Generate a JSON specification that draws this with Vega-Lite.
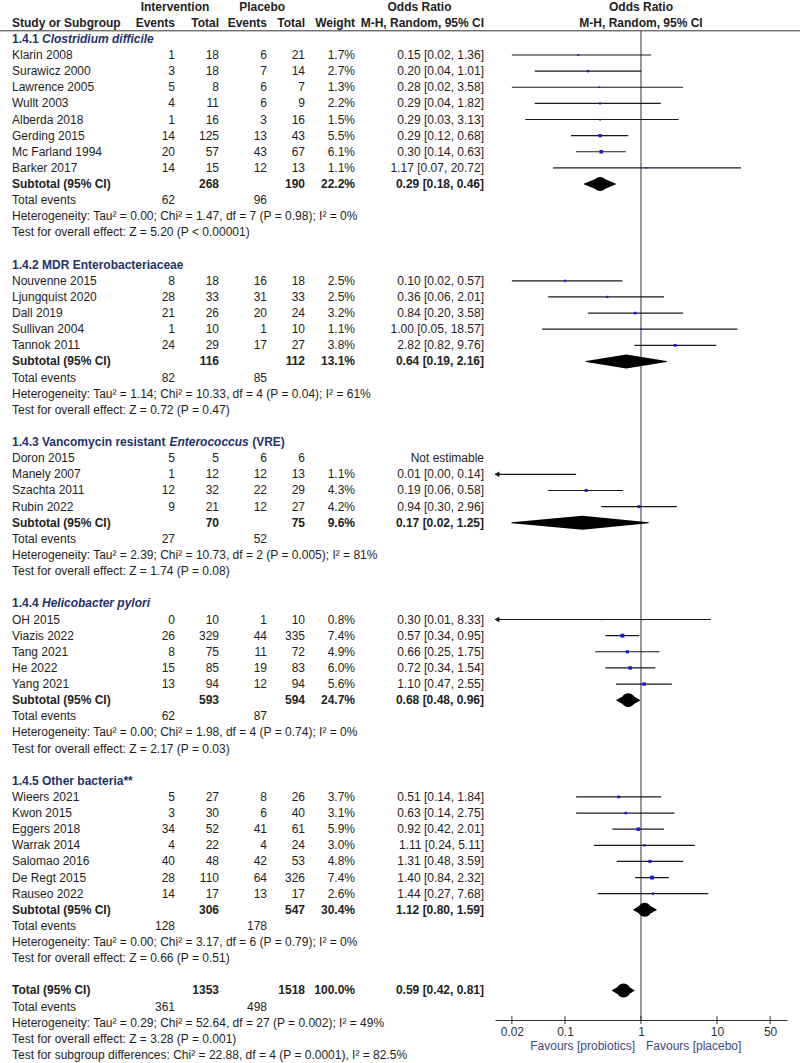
{
  "$schema": "https://vega.github.io/schema/vega-lite/v6.json",
  "width": 800,
  "height": 1020,
  "autosize": {"type": "none"},
  "padding": {"left": 0, "top": 0, "right": 0, "bottom": 43},
  "background": "white",
  "config": {
    "view": {"stroke": null},
    "font": "Liberation Sans",
    "text": {"fontSize": 12, "font": "Liberation Sans"},
    "axis": {"labelFont": "Liberation Sans"}
  },
  "datasets": {
    "one": [{}],
    "ticks": [{"t": 0.02}, {"t": 0.1}, {"t": 1}, {"t": 10}, {"t": 50}],
    "rows": [
      {"row": -3, "kind": "g", "e1": "Intervention", "e2": "Placebo", "ci": "Odds Ratio", "fh": "Odds Ratio"},
      {"row": -2, "kind": "c", "name": "Study or Subgroup", "e1": "Events", "n1": "Total", "e2": "Events", "n2": "Total", "wt": "Weight", "ci": "M-H, Random, 95% CI", "fh": "M-H, Random, 95% CI"},
      {"row": -1, "kind": "h", "name": "1.4.1", "it": "Clostridium difficile"},
      {"row": 0, "kind": "s", "name": "Klarin 2008", "e1": 1, "n1": 18, "e2": 6, "n2": 21, "w": 1.7, "wt": "1.7%", "ci": "0.15 [0.02, 1.36]", "est": 0.15, "lo": 0.02, "hi": 1.36},
      {"row": 1, "kind": "s", "name": "Surawicz 2000", "e1": 3, "n1": 18, "e2": 7, "n2": 14, "w": 2.7, "wt": "2.7%", "ci": "0.20 [0.04, 1.01]", "est": 0.2, "lo": 0.04, "hi": 1.01},
      {"row": 2, "kind": "s", "name": "Lawrence 2005", "e1": 5, "n1": 8, "e2": 6, "n2": 7, "w": 1.3, "wt": "1.3%", "ci": "0.28 [0.02, 3.58]", "est": 0.28, "lo": 0.02, "hi": 3.58},
      {"row": 3, "kind": "s", "name": "Wullt 2003", "e1": 4, "n1": 11, "e2": 6, "n2": 9, "w": 2.2, "wt": "2.2%", "ci": "0.29 [0.04, 1.82]", "est": 0.29, "lo": 0.04, "hi": 1.82},
      {"row": 4, "kind": "s", "name": "Alberda 2018", "e1": 1, "n1": 16, "e2": 3, "n2": 16, "w": 1.5, "wt": "1.5%", "ci": "0.29 [0.03, 3.13]", "est": 0.29, "lo": 0.03, "hi": 3.13},
      {"row": 5, "kind": "s", "name": "Gerding 2015", "e1": 14, "n1": 125, "e2": 13, "n2": 43, "w": 5.5, "wt": "5.5%", "ci": "0.29 [0.12, 0.68]", "est": 0.29, "lo": 0.12, "hi": 0.68},
      {"row": 6, "kind": "s", "name": "Mc Farland 1994", "e1": 20, "n1": 57, "e2": 43, "n2": 67, "w": 6.1, "wt": "6.1%", "ci": "0.30 [0.14, 0.63]", "est": 0.3, "lo": 0.14, "hi": 0.63},
      {"row": 7, "kind": "s", "name": "Barker 2017", "e1": 14, "n1": 15, "e2": 12, "n2": 13, "w": 1.1, "wt": "1.1%", "ci": "1.17 [0.07, 20.72]", "est": 1.17, "lo": 0.07, "hi": 20.72},
      {"row": 8, "kind": "b", "name": "Subtotal (95% CI)", "n1": 268, "n2": 190, "wt": "22.2%", "ci": "0.29 [0.18, 0.46]", "est": 0.29, "lo": 0.18, "hi": 0.46},
      {"row": 9, "kind": "e", "name": "Total events", "e1": 62, "e2": 96},
      {"row": 10, "kind": "n", "name": "Heterogeneity: Tau² = 0.00; Chi² = 1.47, df = 7 (P = 0.98); I² = 0%"},
      {"row": 11, "kind": "n", "name": "Test for overall effect: Z = 5.20 (P < 0.00001)"},
      {"row": 13, "kind": "h", "name": "1.4.2 MDR Enterobacteriaceae"},
      {"row": 14, "kind": "s", "name": "Nouvenne 2015", "e1": 8, "n1": 18, "e2": 16, "n2": 18, "w": 2.5, "wt": "2.5%", "ci": "0.10 [0.02, 0.57]", "est": 0.1, "lo": 0.02, "hi": 0.57},
      {"row": 15, "kind": "s", "name": "Ljungquist 2020", "e1": 28, "n1": 33, "e2": 31, "n2": 33, "w": 2.5, "wt": "2.5%", "ci": "0.36 [0.06, 2.01]", "est": 0.36, "lo": 0.06, "hi": 2.01},
      {"row": 16, "kind": "s", "name": "Dall 2019", "e1": 21, "n1": 26, "e2": 20, "n2": 24, "w": 3.2, "wt": "3.2%", "ci": "0.84 [0.20, 3.58]", "est": 0.84, "lo": 0.2, "hi": 3.58},
      {"row": 17, "kind": "s", "name": "Sullivan 2004", "e1": 1, "n1": 10, "e2": 1, "n2": 10, "w": 1.1, "wt": "1.1%", "ci": "1.00 [0.05, 18.57]", "est": 1.0, "lo": 0.05, "hi": 18.57},
      {"row": 18, "kind": "s", "name": "Tannok 2011", "e1": 24, "n1": 29, "e2": 17, "n2": 27, "w": 3.8, "wt": "3.8%", "ci": "2.82 [0.82, 9.76]", "est": 2.82, "lo": 0.82, "hi": 9.76},
      {"row": 19, "kind": "b", "name": "Subtotal (95% CI)", "n1": 116, "n2": 112, "wt": "13.1%", "ci": "0.64 [0.19, 2.16]", "est": 0.64, "lo": 0.19, "hi": 2.16},
      {"row": 20, "kind": "e", "name": "Total events", "e1": 82, "e2": 85},
      {"row": 21, "kind": "n", "name": "Heterogeneity: Tau² = 1.14; Chi² = 10.33, df = 4 (P = 0.04); I² = 61%"},
      {"row": 22, "kind": "n", "name": "Test for overall effect: Z = 0.72 (P = 0.47)"},
      {"row": 24, "kind": "h", "name": "1.4.3 Vancomycin resistant", "it": "Enterococcus", "tail": "(VRE)"},
      {"row": 25, "kind": "s", "name": "Doron 2015", "e1": 5, "n1": 5, "e2": 6, "n2": 6, "ci": "Not estimable"},
      {"row": 26, "kind": "s", "name": "Manely 2007", "e1": 1, "n1": 12, "e2": 12, "n2": 13, "w": 1.1, "wt": "1.1%", "ci": "0.01 [0.00, 0.14]", "est": 0.0076, "lo": 0.0004, "hi": 0.14},
      {"row": 27, "kind": "s", "name": "Szachta 2011", "e1": 12, "n1": 32, "e2": 22, "n2": 29, "w": 4.3, "wt": "4.3%", "ci": "0.19 [0.06, 0.58]", "est": 0.19, "lo": 0.06, "hi": 0.58},
      {"row": 28, "kind": "s", "name": "Rubin 2022", "e1": 9, "n1": 21, "e2": 12, "n2": 27, "w": 4.2, "wt": "4.2%", "ci": "0.94 [0.30, 2.96]", "est": 0.94, "lo": 0.3, "hi": 2.96},
      {"row": 29, "kind": "b", "name": "Subtotal (95% CI)", "n1": 70, "n2": 75, "wt": "9.6%", "ci": "0.17 [0.02, 1.25]", "est": 0.17, "lo": 0.02, "hi": 1.25},
      {"row": 30, "kind": "e", "name": "Total events", "e1": 27, "e2": 52},
      {"row": 31, "kind": "n", "name": "Heterogeneity: Tau² = 2.39; Chi² = 10.73, df = 2 (P = 0.005); I² = 81%"},
      {"row": 32, "kind": "n", "name": "Test for overall effect: Z = 1.74 (P = 0.08)"},
      {"row": 34, "kind": "h", "name": "1.4.4", "it": "Helicobacter pylori"},
      {"row": 35, "kind": "s", "name": "OH 2015", "e1": 0, "n1": 10, "e2": 1, "n2": 10, "w": 0.8, "wt": "0.8%", "ci": "0.30 [0.01, 8.33]", "est": 0.3, "lo": 0.01, "hi": 8.33},
      {"row": 36, "kind": "s", "name": "Viazis 2022", "e1": 26, "n1": 329, "e2": 44, "n2": 335, "w": 7.4, "wt": "7.4%", "ci": "0.57 [0.34, 0.95]", "est": 0.57, "lo": 0.34, "hi": 0.95},
      {"row": 37, "kind": "s", "name": "Tang 2021", "e1": 8, "n1": 75, "e2": 11, "n2": 72, "w": 4.9, "wt": "4.9%", "ci": "0.66 [0.25, 1.75]", "est": 0.66, "lo": 0.25, "hi": 1.75},
      {"row": 38, "kind": "s", "name": "He 2022", "e1": 15, "n1": 85, "e2": 19, "n2": 83, "w": 6.0, "wt": "6.0%", "ci": "0.72 [0.34, 1.54]", "est": 0.72, "lo": 0.34, "hi": 1.54},
      {"row": 39, "kind": "s", "name": "Yang 2021", "e1": 13, "n1": 94, "e2": 12, "n2": 94, "w": 5.6, "wt": "5.6%", "ci": "1.10 [0.47, 2.55]", "est": 1.1, "lo": 0.47, "hi": 2.55},
      {"row": 40, "kind": "b", "name": "Subtotal (95% CI)", "n1": 593, "n2": 594, "wt": "24.7%", "ci": "0.68 [0.48, 0.96]", "est": 0.68, "lo": 0.48, "hi": 0.96},
      {"row": 41, "kind": "e", "name": "Total events", "e1": 62, "e2": 87},
      {"row": 42, "kind": "n", "name": "Heterogeneity: Tau² = 0.00; Chi² = 1.98, df = 4 (P = 0.74); I² = 0%"},
      {"row": 43, "kind": "n", "name": "Test for overall effect: Z = 2.17 (P = 0.03)"},
      {"row": 45, "kind": "h", "name": "1.4.5 Other bacteria**"},
      {"row": 46, "kind": "s", "name": "Wieers 2021", "e1": 5, "n1": 27, "e2": 8, "n2": 26, "w": 3.7, "wt": "3.7%", "ci": "0.51 [0.14, 1.84]", "est": 0.51, "lo": 0.14, "hi": 1.84},
      {"row": 47, "kind": "s", "name": "Kwon 2015", "e1": 3, "n1": 30, "e2": 6, "n2": 40, "w": 3.1, "wt": "3.1%", "ci": "0.63 [0.14, 2.75]", "est": 0.63, "lo": 0.14, "hi": 2.75},
      {"row": 48, "kind": "s", "name": "Eggers 2018", "e1": 34, "n1": 52, "e2": 41, "n2": 61, "w": 5.9, "wt": "5.9%", "ci": "0.92 [0.42, 2.01]", "est": 0.92, "lo": 0.42, "hi": 2.01},
      {"row": 49, "kind": "s", "name": "Warrak 2014", "e1": 4, "n1": 22, "e2": 4, "n2": 24, "w": 3.0, "wt": "3.0%", "ci": "1.11 [0.24, 5.11]", "est": 1.11, "lo": 0.24, "hi": 5.11},
      {"row": 50, "kind": "s", "name": "Salomao 2016", "e1": 40, "n1": 48, "e2": 42, "n2": 53, "w": 4.8, "wt": "4.8%", "ci": "1.31 [0.48, 3.59]", "est": 1.31, "lo": 0.48, "hi": 3.59},
      {"row": 51, "kind": "s", "name": "De Regt 2015", "e1": 28, "n1": 110, "e2": 64, "n2": 326, "w": 7.4, "wt": "7.4%", "ci": "1.40 [0.84, 2.32]", "est": 1.4, "lo": 0.84, "hi": 2.32},
      {"row": 52, "kind": "s", "name": "Rauseo 2022", "e1": 14, "n1": 17, "e2": 13, "n2": 17, "w": 2.6, "wt": "2.6%", "ci": "1.44 [0.27, 7.68]", "est": 1.44, "lo": 0.27, "hi": 7.68},
      {"row": 53, "kind": "b", "name": "Subtotal (95% CI)", "n1": 306, "n2": 547, "wt": "30.4%", "ci": "1.12 [0.80, 1.59]", "est": 1.12, "lo": 0.8, "hi": 1.59},
      {"row": 54, "kind": "e", "name": "Total events", "e1": 128, "e2": 178},
      {"row": 55, "kind": "n", "name": "Heterogeneity: Tau² = 0.00; Chi² = 3.17, df = 6 (P = 0.79); I² = 0%"},
      {"row": 56, "kind": "n", "name": "Test for overall effect: Z = 0.66 (P = 0.51)"},
      {"row": 58, "kind": "b", "name": "Total (95% CI)", "n1": 1353, "n2": 1518, "wt": "100.0%", "ci": "0.59 [0.42, 0.81]", "est": 0.59, "lo": 0.42, "hi": 0.81},
      {"row": 59, "kind": "e", "name": "Total events", "e1": 361, "e2": 498},
      {"row": 60, "kind": "n", "name": "Heterogeneity: Tau² = 0.29; Chi² = 52.64, df = 27 (P = 0.002); I² = 49%"},
      {"row": 61, "kind": "n", "name": "Test for overall effect: Z = 3.28 (P = 0.001)"},
      {"row": 62, "kind": "n", "name": "Test for subgroup differences: Chi² = 22.88, df = 4 (P = 0.0001), I² = 82.5%"}
    ]
  },
  "data": {"name": "rows"},
  "resolve": {"scale": {"x": "independent"}, "axis": {"x": "independent"}},
  "layer": [
    {
      "layer": [
        {"transform": [{"filter": "datum.kind==='s'||datum.kind==='e'||datum.kind==='n'"}],
         "mark": {"type": "text", "align": "left", "color": "#1e1e1e"},
         "encoding": {"x": {"datum": 0, "type": "quantitative", "scale": {"type": "linear", "domain": [0, 1, 2, 3, 4, 5, 6], "range": [12, 175, 219, 267, 305, 355, 484], "nice": false, "zero": false}, "axis": null},
                      "y": {"field": "row", "type": "quantitative", "scale": {"domain": [-3.41, 59.83], "reverse": true, "nice": false, "zero": false}, "axis": null},
                      "text": {"field": "name", "type": "nominal"}}},
        {"transform": [{"filter": "(datum.kind==='s'||datum.kind==='e') && isValid(datum.e1)"}],
         "mark": {"type": "text", "align": "right", "color": "#1e1e1e"},
         "encoding": {"x": {"datum": 1, "type": "quantitative", "axis": null}, "y": {"field": "row", "type": "quantitative", "axis": null}, "text": {"field": "e1", "type": "nominal"}}},
        {"transform": [{"filter": "datum.kind==='s'"}],
         "mark": {"type": "text", "align": "right", "color": "#1e1e1e"},
         "encoding": {"x": {"datum": 2, "type": "quantitative", "axis": null}, "y": {"field": "row", "type": "quantitative", "axis": null}, "text": {"field": "n1", "type": "nominal"}}},
        {"transform": [{"filter": "(datum.kind==='s'||datum.kind==='e') && isValid(datum.e2)"}],
         "mark": {"type": "text", "align": "right", "color": "#1e1e1e"},
         "encoding": {"x": {"datum": 3, "type": "quantitative", "axis": null}, "y": {"field": "row", "type": "quantitative", "axis": null}, "text": {"field": "e2", "type": "nominal"}}},
        {"transform": [{"filter": "datum.kind==='s'"}],
         "mark": {"type": "text", "align": "right", "color": "#1e1e1e"},
         "encoding": {"x": {"datum": 4, "type": "quantitative", "axis": null}, "y": {"field": "row", "type": "quantitative", "axis": null}, "text": {"field": "n2", "type": "nominal"}}},
        {"transform": [{"filter": "datum.kind==='s' && isValid(datum.wt)"}],
         "mark": {"type": "text", "align": "right", "color": "#1e1e1e"},
         "encoding": {"x": {"datum": 5, "type": "quantitative", "axis": null}, "y": {"field": "row", "type": "quantitative", "axis": null}, "text": {"field": "wt", "type": "nominal"}}},
        {"transform": [{"filter": "datum.kind==='s'"}],
         "mark": {"type": "text", "align": "right", "color": "#1e1e1e"},
         "encoding": {"x": {"datum": 6, "type": "quantitative", "axis": null}, "y": {"field": "row", "type": "quantitative", "axis": null}, "text": {"field": "ci", "type": "nominal"}}},
        {"transform": [{"filter": "datum.kind==='b'||datum.kind==='c'"}],
         "mark": {"type": "text", "align": "left", "fontWeight": "bold", "color": "#222222"},
         "encoding": {"x": {"datum": 0, "type": "quantitative", "axis": null}, "y": {"field": "row", "type": "quantitative", "axis": null}, "text": {"field": "name", "type": "nominal"}}},
        {"transform": [{"filter": "datum.kind==='c'"}],
         "mark": {"type": "text", "align": "right", "fontWeight": "bold", "color": "#222222"},
         "encoding": {"x": {"datum": 1, "type": "quantitative", "axis": null}, "y": {"field": "row", "type": "quantitative", "axis": null}, "text": {"field": "e1", "type": "nominal"}}},
        {"transform": [{"filter": "datum.kind==='b'||datum.kind==='c'"}],
         "mark": {"type": "text", "align": "right", "fontWeight": "bold", "color": "#222222"},
         "encoding": {"x": {"datum": 2, "type": "quantitative", "axis": null}, "y": {"field": "row", "type": "quantitative", "axis": null}, "text": {"field": "n1", "type": "nominal"}}},
        {"transform": [{"filter": "datum.kind==='c'"}],
         "mark": {"type": "text", "align": "right", "fontWeight": "bold", "color": "#222222"},
         "encoding": {"x": {"datum": 3, "type": "quantitative", "axis": null}, "y": {"field": "row", "type": "quantitative", "axis": null}, "text": {"field": "e2", "type": "nominal"}}},
        {"transform": [{"filter": "datum.kind==='b'||datum.kind==='c'"}],
         "mark": {"type": "text", "align": "right", "fontWeight": "bold", "color": "#222222"},
         "encoding": {"x": {"datum": 4, "type": "quantitative", "axis": null}, "y": {"field": "row", "type": "quantitative", "axis": null}, "text": {"field": "n2", "type": "nominal"}}},
        {"transform": [{"filter": "datum.kind==='b'||datum.kind==='c'"}],
         "mark": {"type": "text", "align": "right", "fontWeight": "bold", "color": "#222222"},
         "encoding": {"x": {"datum": 5, "type": "quantitative", "axis": null}, "y": {"field": "row", "type": "quantitative", "axis": null}, "text": {"field": "wt", "type": "nominal"}}},
        {"transform": [{"filter": "datum.kind==='b'||datum.kind==='c'"}],
         "mark": {"type": "text", "align": "right", "fontWeight": "bold", "color": "#222222"},
         "encoding": {"x": {"datum": 6, "type": "quantitative", "axis": null}, "y": {"field": "row", "type": "quantitative", "axis": null}, "text": {"field": "ci", "type": "nominal"}}},
        {"transform": [{"filter": "datum.kind==='g'"}],
         "mark": {"type": "text", "align": "center", "fontWeight": "bold", "color": "#222222"},
         "encoding": {"x": {"datum": 1, "type": "quantitative", "axis": null}, "y": {"field": "row", "type": "quantitative", "axis": null}, "text": {"field": "e1", "type": "nominal"}}},
        {"transform": [{"filter": "datum.kind==='g'"}],
         "mark": {"type": "text", "align": "center", "fontWeight": "bold", "color": "#222222"},
         "encoding": {"x": {"datum": 2.9, "type": "quantitative", "axis": null}, "y": {"field": "row", "type": "quantitative", "axis": null}, "text": {"field": "e2", "type": "nominal"}}},
        {"transform": [{"filter": "datum.kind==='g'"}],
         "mark": {"type": "text", "align": "center", "fontWeight": "bold", "color": "#222222"},
         "encoding": {"x": {"datum": 5.5, "type": "quantitative", "axis": null}, "y": {"field": "row", "type": "quantitative", "axis": null}, "text": {"field": "ci", "type": "nominal"}}},
        {"transform": [{"filter": "datum.kind==='h'"}],
         "mark": {"type": "text", "align": "left", "fontWeight": "bold", "color": "#22336b"},
         "encoding": {"x": {"datum": 0, "type": "quantitative", "axis": null}, "y": {"field": "row", "type": "quantitative", "axis": null}, "text": {"field": "name", "type": "nominal"}}},
        {"transform": [{"filter": "datum.kind==='h' && isValid(datum.it) && !isValid(datum.tail)"}],
         "mark": {"type": "text", "align": "left", "fontWeight": "bold", "fontStyle": "italic", "color": "#22336b", "dx": 30},
         "encoding": {"x": {"datum": 0, "type": "quantitative", "axis": null}, "y": {"field": "row", "type": "quantitative", "axis": null}, "text": {"field": "it", "type": "nominal"}}},
        {"transform": [{"filter": "datum.kind==='h' && isValid(datum.tail)"}],
         "mark": {"type": "text", "align": "left", "fontWeight": "bold", "fontStyle": "italic", "color": "#22336b", "dx": 157.4},
         "encoding": {"x": {"datum": 0, "type": "quantitative", "axis": null}, "y": {"field": "row", "type": "quantitative", "axis": null}, "text": {"field": "it", "type": "nominal"}}},
        {"transform": [{"filter": "datum.kind==='h' && isValid(datum.tail)"}],
         "mark": {"type": "text", "align": "left", "fontWeight": "bold", "color": "#22336b", "dx": 240.2},
         "encoding": {"x": {"datum": 0, "type": "quantitative", "axis": null}, "y": {"field": "row", "type": "quantitative", "axis": null}, "text": {"field": "tail", "type": "nominal"}}},
        {"data": {"name": "one"},
         "mark": {"type": "rule", "color": "#333333", "strokeWidth": 1},
         "encoding": {"y": {"datum": -1.5, "type": "quantitative", "axis": null}}}
      ]
    },
    {
      "layer": [
        {"data": {"name": "one"},
         "mark": {"type": "rule", "color": "#333333", "strokeWidth": 1},
         "encoding": {
           "x": {"datum": 1, "type": "quantitative",
                 "scale": {"type": "log", "domain": [0.012, 83.4], "range": [495, 787], "clamp": true, "nice": false},
                 "axis": {"values": [0.02, 0.1, 1, 10, 50], "format": "~g", "title": null, "ticks": false, "grid": false, "labelPadding": 6, "labelFontSize": 12, "labelColor": "#333333", "domainColor": "#333333", "domainWidth": 1, "labelFlush": false, "labelOverlap": false}},
           "y": {"datum": -1.5, "type": "quantitative", "axis": null}, "y2": {"datum": 59.83}}},
        {"transform": [{"filter": "datum.kind==='s' && isValid(datum.est)"}],
         "mark": {"type": "rule", "color": "#1a1a1a", "strokeWidth": 1.2},
         "encoding": {"x": {"field": "lo", "type": "quantitative", "title": null}, "x2": {"field": "hi"}, "y": {"field": "row", "type": "quantitative", "axis": null}}},
        {"transform": [{"filter": "datum.kind==='s' && datum.lo < 0.012"}],
         "mark": {"type": "point", "shape": "triangle-left", "filled": true, "color": "#111111", "size": 30, "opacity": 1, "xOffset": 2},
         "encoding": {"x": {"field": "lo", "type": "quantitative", "title": null}, "y": {"field": "row", "type": "quantitative", "axis": null}}},
        {"transform": [{"filter": "datum.kind==='s' && datum.est >= 0.012"}],
         "mark": {"type": "square", "filled": true, "color": "#1a1ad6", "opacity": 1},
         "encoding": {"x": {"field": "est", "type": "quantitative", "title": null}, "y": {"field": "row", "type": "quantitative", "axis": null},
                      "size": {"field": "w", "type": "quantitative", "scale": {"domain": [0, 7.4], "range": [0, 15]}, "legend": null}}},
        {"transform": [{"filter": "datum.kind==='b'"}, {"fold": ["lo", "est", "hi"], "as": ["key", "value"]}],
         "mark": {"type": "trail", "color": "#000000", "opacity": 1},
         "encoding": {"x": {"field": "value", "type": "quantitative", "title": null}, "y": {"field": "row", "type": "quantitative", "axis": null},
                      "detail": {"field": "row", "type": "nominal"},
                      "order": {"field": "value", "type": "quantitative"},
                      "size": {"condition": {"test": "datum.key === 'est'", "value": 14}, "value": 0}}},
        {"data": {"name": "ticks"},
         "mark": {"type": "rule", "color": "#333333", "strokeWidth": 1},
         "encoding": {"x": {"field": "t", "type": "quantitative", "title": null}, "y": {"datum": 59.58, "type": "quantitative", "axis": null}, "y2": {"datum": 60.08}}},
        {"transform": [{"filter": "isValid(datum.fh)"}],
         "mark": {"type": "text", "align": "center", "fontWeight": "bold", "color": "#222222"},
         "encoding": {"x": {"datum": 1, "type": "quantitative"}, "y": {"field": "row", "type": "quantitative", "axis": null}, "text": {"field": "fh", "type": "nominal"}}},
        {"data": {"name": "one"},
         "mark": {"type": "text", "align": "right", "dx": -6, "color": "#3b4a7c"},
         "encoding": {"x": {"datum": 1, "type": "quantitative"}, "y": {"datum": 61.44, "type": "quantitative", "axis": null}, "text": {"value": "Favours [probiotics]"}}},
        {"data": {"name": "one"},
         "mark": {"type": "text", "align": "left", "dx": 5, "color": "#3b4a7c"},
         "encoding": {"x": {"datum": 1, "type": "quantitative"}, "y": {"datum": 61.44, "type": "quantitative", "axis": null}, "text": {"value": "Favours [placebo]"}}}
      ]
    }
  ]
}
